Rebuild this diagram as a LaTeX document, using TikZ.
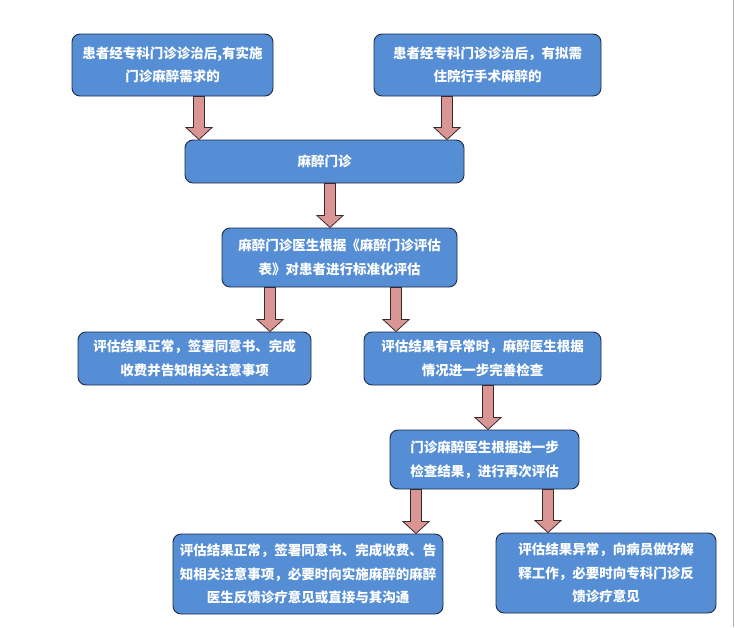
\documentclass[tikz,border=0pt]{standalone}
\usepackage{fontspec}
\newfontfamily\cjk{Noto Sans CJK SC}
\usetikzlibrary{calc}
\definecolor{boxfill}{HTML}{558ED5}
\definecolor{boxline}{HTML}{1F2A44}
\definecolor{arrfill}{HTML}{D99694}
\definecolor{arrline}{HTML}{3A2A2A}
\tikzset{
  flowbox/.style={draw=boxline, line width=0.9pt, fill=boxfill, rounded corners=8pt,
    text=white, align=center, inner sep=0pt, font=\cjk\bfseries\fontsize{13.5}{23.5}\selectfont},
  blockarr/.style={fill=arrfill, draw=arrline, line width=0.8pt, line join=miter}
}
\newcommand\barrow[3]{%
  \path let \p1=(#2.south), \p2=(#3.north) in
    [blockarr] (#1-5.5,\y1) -- (#1+5.5,\y1) -- (#1+5.5,\y2+12) -- (#1+13,\y2+12)
    -- (#1,\y2) -- (#1-13,\y2+12) -- (#1-5.5,\y2+12) -- cycle;}
\begin{document}
\begin{tikzpicture}[x=1pt,y=1pt]
\useasboundingbox (0,0) rectangle (735,-627);
\fill[white] (0,0) rectangle (735,-627);
\draw[gray!60, line width=0.8pt] (733.5,0) coordinate (e1) -- (733.5,-627) coordinate (e2);
\node[flowbox, minimum width=201, minimum height=62] (b1) at (172.5,-65)
  {患者经专科门诊诊治后,有实施\\门诊麻醉需求的};
\node[flowbox, minimum width=227, minimum height=62] (b2) at (487.5,-65)
  {患者经专科门诊诊治后，有拟需\\住院行手术麻醉的};
\node[flowbox, minimum width=279, minimum height=43] (b3) at (324.5,-161.5)
  {麻醉门诊};
\node[flowbox, minimum width=235, minimum height=59] (b4) at (339.5,-257.5)
  {麻醉门诊医生根据《麻醉门诊评估\\表》对患者进行标准化评估};
\node[flowbox, minimum width=233, minimum height=53] (b5) at (194.5,-358.5)
  {评估结果正常，签署同意书、完成\\收费并告知相关注意事项};
\node[flowbox, minimum width=237, minimum height=53] (b6) at (482.5,-358.5)
  {评估结果有异常时，麻醉医生根据\\情况进一步完善检查};
\node[flowbox, minimum width=189, minimum height=59] (b7) at (484.5,-459.5)
  {门诊麻醉医生根据进一步\\检查结果，进行再次评估};
\node[flowbox, minimum width=270, minimum height=80] (b8) at (308,-574)
  {评估结果正常，签署同意书、完成收费、告\\知相关注意事项，必要时向实施麻醉的麻醉\\医生反馈诊疗意见或直接与其沟通};
\node[flowbox, minimum width=220, minimum height=80] (b9) at (606,-573)
  {评估结果异常，向病员做好解\\释工作，必要时向专科门诊反\\馈诊疗意见};
\barrow{199}{b1}{b3}
\barrow{447}{b2}{b3}
\barrow{330}{b3}{b4}
\barrow{270}{b4}{b5}
\barrow{396}{b4}{b6}
\barrow{488}{b6}{b7}
\barrow{416}{b7}{b8}
\barrow{548}{b7}{b9}
\end{tikzpicture}
\end{document}
